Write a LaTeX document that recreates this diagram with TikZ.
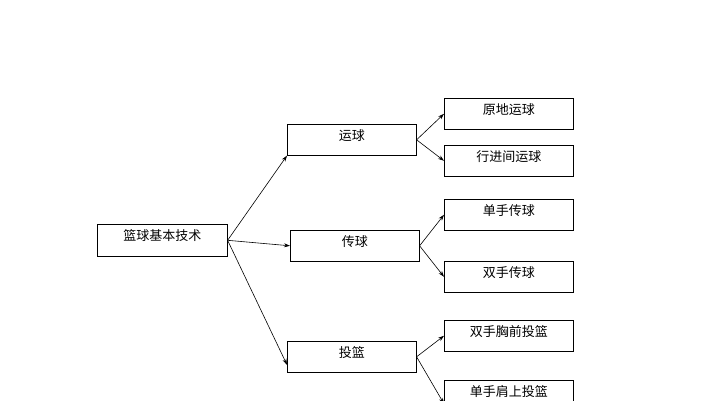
\documentclass[tikz,border=0pt]{standalone}
\usepackage{fontspec}
\setmainfont{Noto Sans CJK SC}
\usetikzlibrary{arrows.meta}
\tikzset{
  box/.style={draw, line width=0.6pt, minimum width=129pt, minimum height=31pt,
    inner sep=0pt, font=\fontsize{13}{15}\selectfont, text depth=10pt, anchor=north west},
  link/.style={-{Stealth[length=6pt,width=4pt]}, line width=0.6pt}
}
\begin{document}
\begin{tikzpicture}[x=1pt,y=-1pt]
  \useasboundingbox (0,0) rectangle (707,400);
  \clip (0,0) rectangle (707,400);
  % root and branches
  \node[box, minimum width=130pt, minimum height=32pt] (root) at (97,224) {篮球基本技术};
  \node[box] (dribble) at (287,124) {运球};
  \node[box] (pass) at (290,230) {传球};
  \node[box] (shoot) at (287,341) {投篮};
  % leaves
  \node[box] (d1) at (444,98) {原地运球};
  \node[box] (d2) at (444,145) {行进间运球};
  \node[box] (p1) at (444,199) {单手传球};
  \node[box] (p2) at (444,261) {双手传球};
  \node[box] (s1) at (444,320) {双手胸前投篮};
  \node[box] (s2) at (444,380) {单手肩上投篮};
  % connectors
  \draw[link] (root.east) -- (dribble.south west);
  \draw[link] (root.east) -- (pass.west);
  \draw[link] (root.east) -- ([yshift=-8pt]shoot.west);
  \draw[link] (dribble.east) -- (d1.west);
  \draw[link] (dribble.east) -- (d2.west);
  \draw[link] (pass.east) -- (p1.west);
  \draw[link] (pass.east) -- (p2.west);
  \draw[link] (shoot.east) -- (s1.west);
  \draw[link] (shoot.east) -- ([yshift=-8pt]s2.west);
\end{tikzpicture}
\end{document}
